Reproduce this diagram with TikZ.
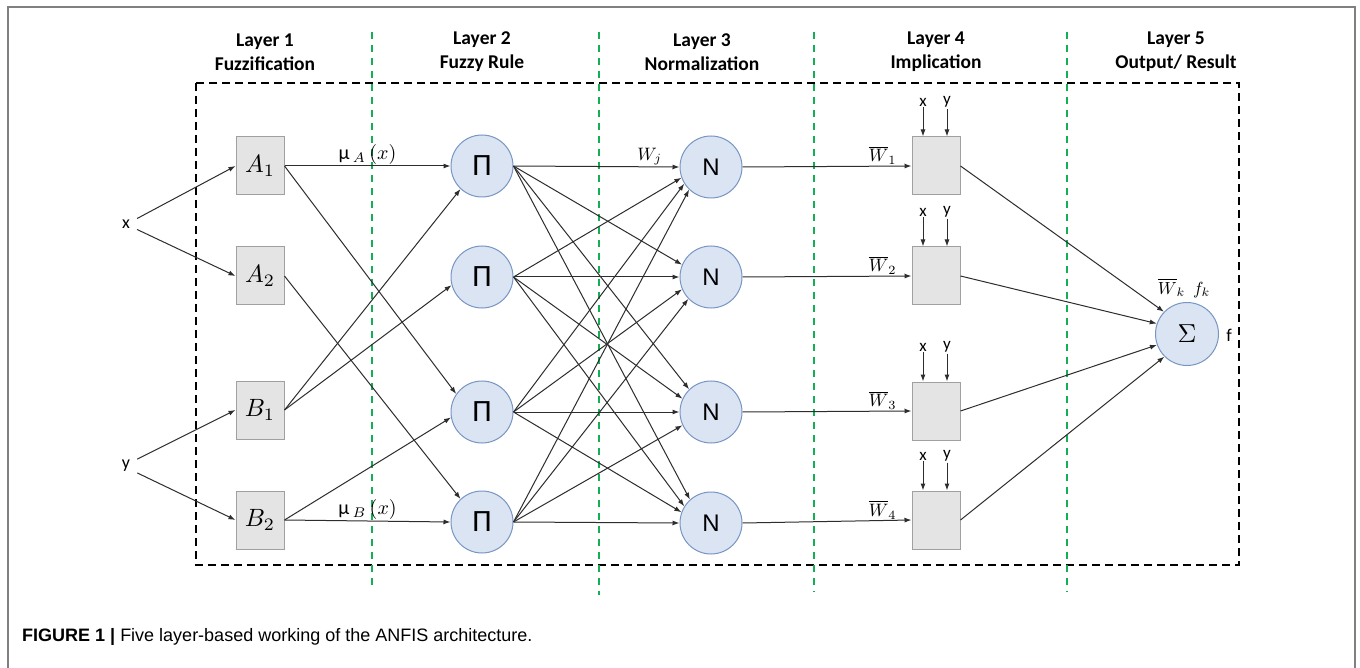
\documentclass[tikz,border=0pt]{standalone}
\usepackage{fontspec}
\setmainfont{Carlito}
\newfontfamily\arialf{Liberation Sans}
\usetikzlibrary{arrows.meta}
\definecolor{circFill}{RGB}{218,228,243}
\definecolor{circBorder}{RGB}{120,150,195}
\definecolor{gline}{RGB}{20,175,85}
\definecolor{boxFill}{RGB}{228,228,228}
\definecolor{boxBorder}{RGB}{160,160,160}
\definecolor{lineCol}{RGB}{45,45,45}
\newcommand{\mscl}[2]{\scalebox{#1}{\fontsize{10}{10}\selectfont$#2$}}
\begin{document}
\begin{tikzpicture}[x=1pt,y=-1pt,
  conn/.style={draw=lineCol, line width=1pt, -{Latex[length=7pt,width=5pt]}},
  mbox/.style={draw=boxBorder, fill=boxFill, line width=1pt, minimum width=48pt, minimum height=58pt, inner sep=0pt},
  circ/.style={circle, draw=circBorder, fill=circFill, line width=1pt, minimum size=62pt, inner sep=0pt},
  hdr/.style={font=\bfseries\fontsize{19.5}{24}\selectfont, align=center, inner sep=0pt},
  lbl/.style={font=\fontsize{18}{18}\selectfont, inner sep=1pt},
  sml/.style={font=\fontsize{17}{17}\selectfont, inner sep=1pt},
  greenline/.style={draw=gline, line width=1.6pt, dash pattern=on 7pt off 6pt},
  blackdash/.style={draw=black, line width=1.7pt, dash pattern=on 8pt off 5pt},
]
\useasboundingbox (0,0) rectangle (1360,668);
\fill[white] (0,0) rectangle (1360,668);
% outer frame
\draw[gray, line width=1.5pt] (8,668) -- (8,7) -- (1355,7) -- (1355,668);

% headers
\node[hdr] (h1) at (265,52) {Layer 1\\Fuzzification};
\node[hdr] (h2) at (482,52) {Layer 2\\Fuzzy Rule};
\node[hdr] (h3) at (702,52) {Layer 3\\Normalization};
\node[hdr] (h4) at (936,52) {Layer 4\\Implication};
\node[hdr] (h5) at (1176,52) {Layer 5\\Output/ Result};

% dashed frame and separators
\draw[blackdash] (196,83) rectangle (1239,565);
\coordinate (g1t) at (372,32); \coordinate (g1b) at (372,590);
\coordinate (g2t) at (599,32); \coordinate (g2b) at (599,595);
\coordinate (g3t) at (814,32); \coordinate (g3b) at (814,592);
\coordinate (g4t) at (1067,32); \coordinate (g4b) at (1067,592);
\draw[greenline] (g1t) -- (g1b);
\draw[greenline] (g2t) -- (g2b);
\draw[greenline] (g3t) -- (g3b);
\draw[greenline] (g4t) -- (g4b);

% inputs
\node[lbl, inner xsep=7pt] (x) at (126,224) {x};
\node[lbl, inner xsep=7pt] (y) at (126,466) {y};

% layer 1
\node[mbox] (A1) at (260,166) {\mscl{2.5}{A_1}};
\node[mbox] (A2) at (260,276) {\mscl{2.5}{A_2}};
\node[mbox] (B1) at (260,410) {\mscl{2.5}{B_1}};
\node[mbox] (B2) at (260,520) {\mscl{2.5}{B_2}};

% layer 2
\foreach \i/\yy in {1/166,2/277,3/412,4/522}{
  \node[circ, font=\fontsize{31}{31}\selectfont] (P\i) at (482,\yy) {Π};
}
% layer 3
\foreach \i/\yy in {1/167,2/277,3/412,4/523}{
  \node[circ, font=\arialf\fontsize{24}{24}\selectfont] (N\i) at (711,\yy) {N};
}
% layer 4
\foreach \i/\yy in {1/166,2/276,3/411,4/520}{
  \node[mbox] (I\i) at (936,\yy) {};
  \node[sml] (ix\i) at (923,\yy-64) {x};
  \node[sml] (iy\i) at (947,\yy-64) {y};
  \draw[conn] (ix\i.south) -- (ix\i.south |- I\i.north);
  \draw[conn] (iy\i.south) -- (iy\i.south |- I\i.north);
}
% layer 5
\node[circ, minimum size=63pt] (S) at (1187,334) {\mscl{2.6}{\Sigma}};
\node[lbl] (Slab) at (1184,288) {\mscl{1.75}{\overline{W}_k\;\, f_k}};
\node[lbl] (f) at (1229,335) {f};

% input connectors
\draw[conn] (x.north east) -- (A1.west);
\draw[conn] (x.south east) -- (A2.west);
\draw[conn] (y.north east) -- (B1.west);
\draw[conn] (y.south east) -- (B2.west);

% layer 1 -> 2
\draw[conn] (A1.east) -- node[lbl, above, pos=0.5, font=\fontsize{20}{20}\selectfont] (muA) {\textmu\,\mscl{2}{_{A}\,(x)}} (P1.west);
\draw[conn] (A1.east) -- (P3.145);
\draw[conn] (A2.east) -- (P4.133);
\draw[conn] (B1.east) -- (P1.227);
\draw[conn] (B1.east) -- (P2.195);
\draw[conn] (B2.east) -- (P3.190);
\draw[conn] (B2.east) -- node[lbl, above, pos=0.5, font=\fontsize{20}{20}\selectfont] (muB) {\textmu\,\mscl{2}{_{B}\,(x)}} (P4.west);

% layer 2 -> 3
\draw[conn] (P1.east) -- node[lbl, above, pos=0.82] (wj) {\mscl{1.8}{W_j}} (N1.west);
\draw[conn] (P2.east) -- (N1.200);
\draw[conn] (P3.east) -- (N1.212);
\draw[conn] (P4.east) -- (N1.226);
\draw[conn] (P1.east) -- (N2.157);
\draw[conn] (P2.east) -- (N2.west);
\draw[conn] (P3.east) -- (N2.203);
\draw[conn] (P4.east) -- (N2.224);
\draw[conn] (P1.east) -- (N3.134);
\draw[conn] (P2.east) -- (N3.155);
\draw[conn] (P3.east) -- (N3.west);
\draw[conn] (P4.east) -- (N3.205);
\draw[conn] (P1.east) -- (N4.132);
\draw[conn] (P2.east) -- (N4.148);
\draw[conn] (P3.east) -- (N4.160);
\draw[conn] (P4.east) -- (N4.west);

% layer 3 -> 4
\foreach \i in {1,2,3,4}{
  \draw[conn] (N\i.east) -- node[lbl, above, pos=0.83] (wb\i) {\mscl{1.8}{\overline{W}_\i}} (I\i.west);
}

% layer 4 -> 5
\draw[conn] (I1.east) -- (S.136);
\draw[conn] (I2.east) -- (S.161);
\draw[conn] (I3.east) -- (S.200);
\draw[conn] (I4.east) -- (S.225);

% caption
\node[anchor=west, inner sep=0pt, font=\arialf\fontsize{18}{18}\selectfont] (cap) at (22,637)
  {\textbf{FIGURE 1 |} Five layer-based working of the ANFIS architecture.};
\end{tikzpicture}
\end{document}
